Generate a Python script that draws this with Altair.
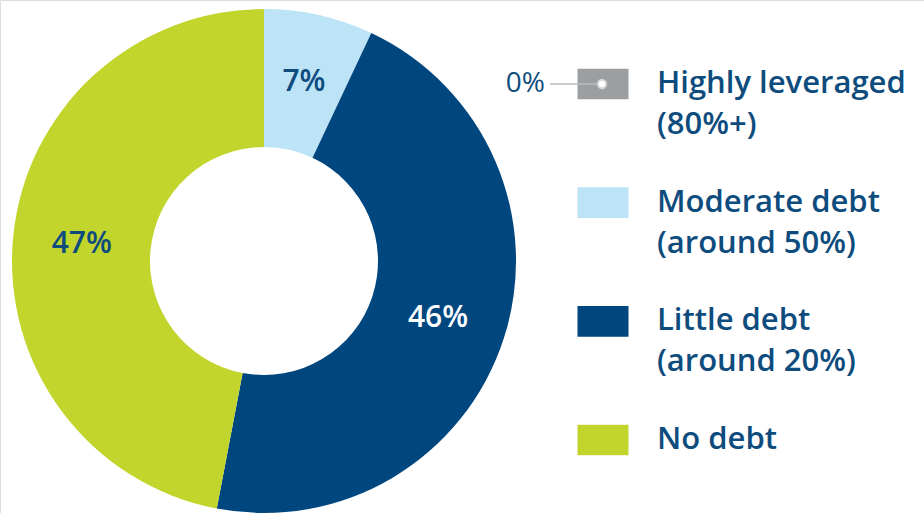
import altair as alt
import pandas as pd

# Debt levels, listed clockwise from 12 o'clock
categories = ["Highly leveraged", "Moderate debt", "Little debt", "No debt"]
label_top = ["Highly leveraged", "Moderate debt", "Little debt", "No debt"]
label_bottom = ["(80%+)", "(around 50%)", "(around 20%)", ""]
shares = [0, 7, 46, 47]

palette = ["#9b9fa2", "#bde3f7", "#00467f", "#c2d52d"]
NAVY = "#0e4c7e"
FONT = "Open Sans"
CX, CY = 264, 261

df = pd.DataFrame({
    "category": categories,
    "share": shares,
    "rank": list(range(len(categories))),
    "line1": label_top,
    "line2": label_bottom,
})
df["pct"] = df["share"].astype(str) + "%"

base = alt.Chart(df)
color = alt.Color("category:N", scale=alt.Scale(domain=categories, range=palette), legend=None)
theta = alt.Theta("share:Q", stack=True)
order = alt.Order("rank:Q")

donut = base.mark_arc(innerRadius=114, outerRadius=252, x=CX, y=CY).encode(
    theta=theta, color=color, order=order
)

slice_labels = base.transform_filter("datum.share > 0").mark_text(
    radius=183, x=CX, y=CY, font=FONT, fontSize=30, fontWeight=600
).encode(
    theta=theta,
    order=order,
    text="pct:N",
    color=alt.condition("datum.category == 'Little debt'", alt.value("white"), alt.value(NAVY)),
)

# Legend rows share one vertical point scale
row = alt.Y("category:N", scale=alt.Scale(type="point", domain=categories, range=[84, 440], padding=0), axis=None)

swatches = base.mark_point(
    shape="M-1,-0.6L1,-0.6L1,0.6L-1,0.6Z", size=2601, filled=True, opacity=1, strokeWidth=0
).encode(x=alt.value(603), y=row, color=color)

text_style = dict(font=FONT, fontSize=31, fontWeight=600, color=NAVY, align="left", baseline="middle")
legend_top = base.mark_text(**text_style).encode(x=alt.value(657), y=row, text="line1:N")
legend_bottom = base.mark_text(dy=41, **text_style).encode(x=alt.value(657), y=row, text="line2:N")

# Callout for the zero-share slice, attached to its swatch
zero = base.transform_filter("datum.share == 0")
zero_text = zero.mark_text(
    font=FONT, fontSize=28, fontWeight=400, color=NAVY, align="right", baseline="middle"
).encode(x=alt.value(545), y=row, text="pct:N")
zero_line = zero.mark_rule(color="#b8bbbe", strokeWidth=1.5).encode(
    x=alt.value(550), x2=alt.value(598), y=row
)
zero_dot = zero.mark_circle(size=70, color="white", opacity=1, stroke="#d2d4d6", strokeWidth=2).encode(
    x=alt.value(602), y=row
)

chart = alt.layer(
    donut, slice_labels, swatches, legend_top, legend_bottom, zero_line, zero_dot, zero_text
).properties(
    width=924, height=513, autosize=alt.AutoSizeParams(type="none"), padding=0
).configure_view(stroke=None).configure(background="white")

chart.save("out.html", embed_options={"renderer": "svg", "actions": False})
